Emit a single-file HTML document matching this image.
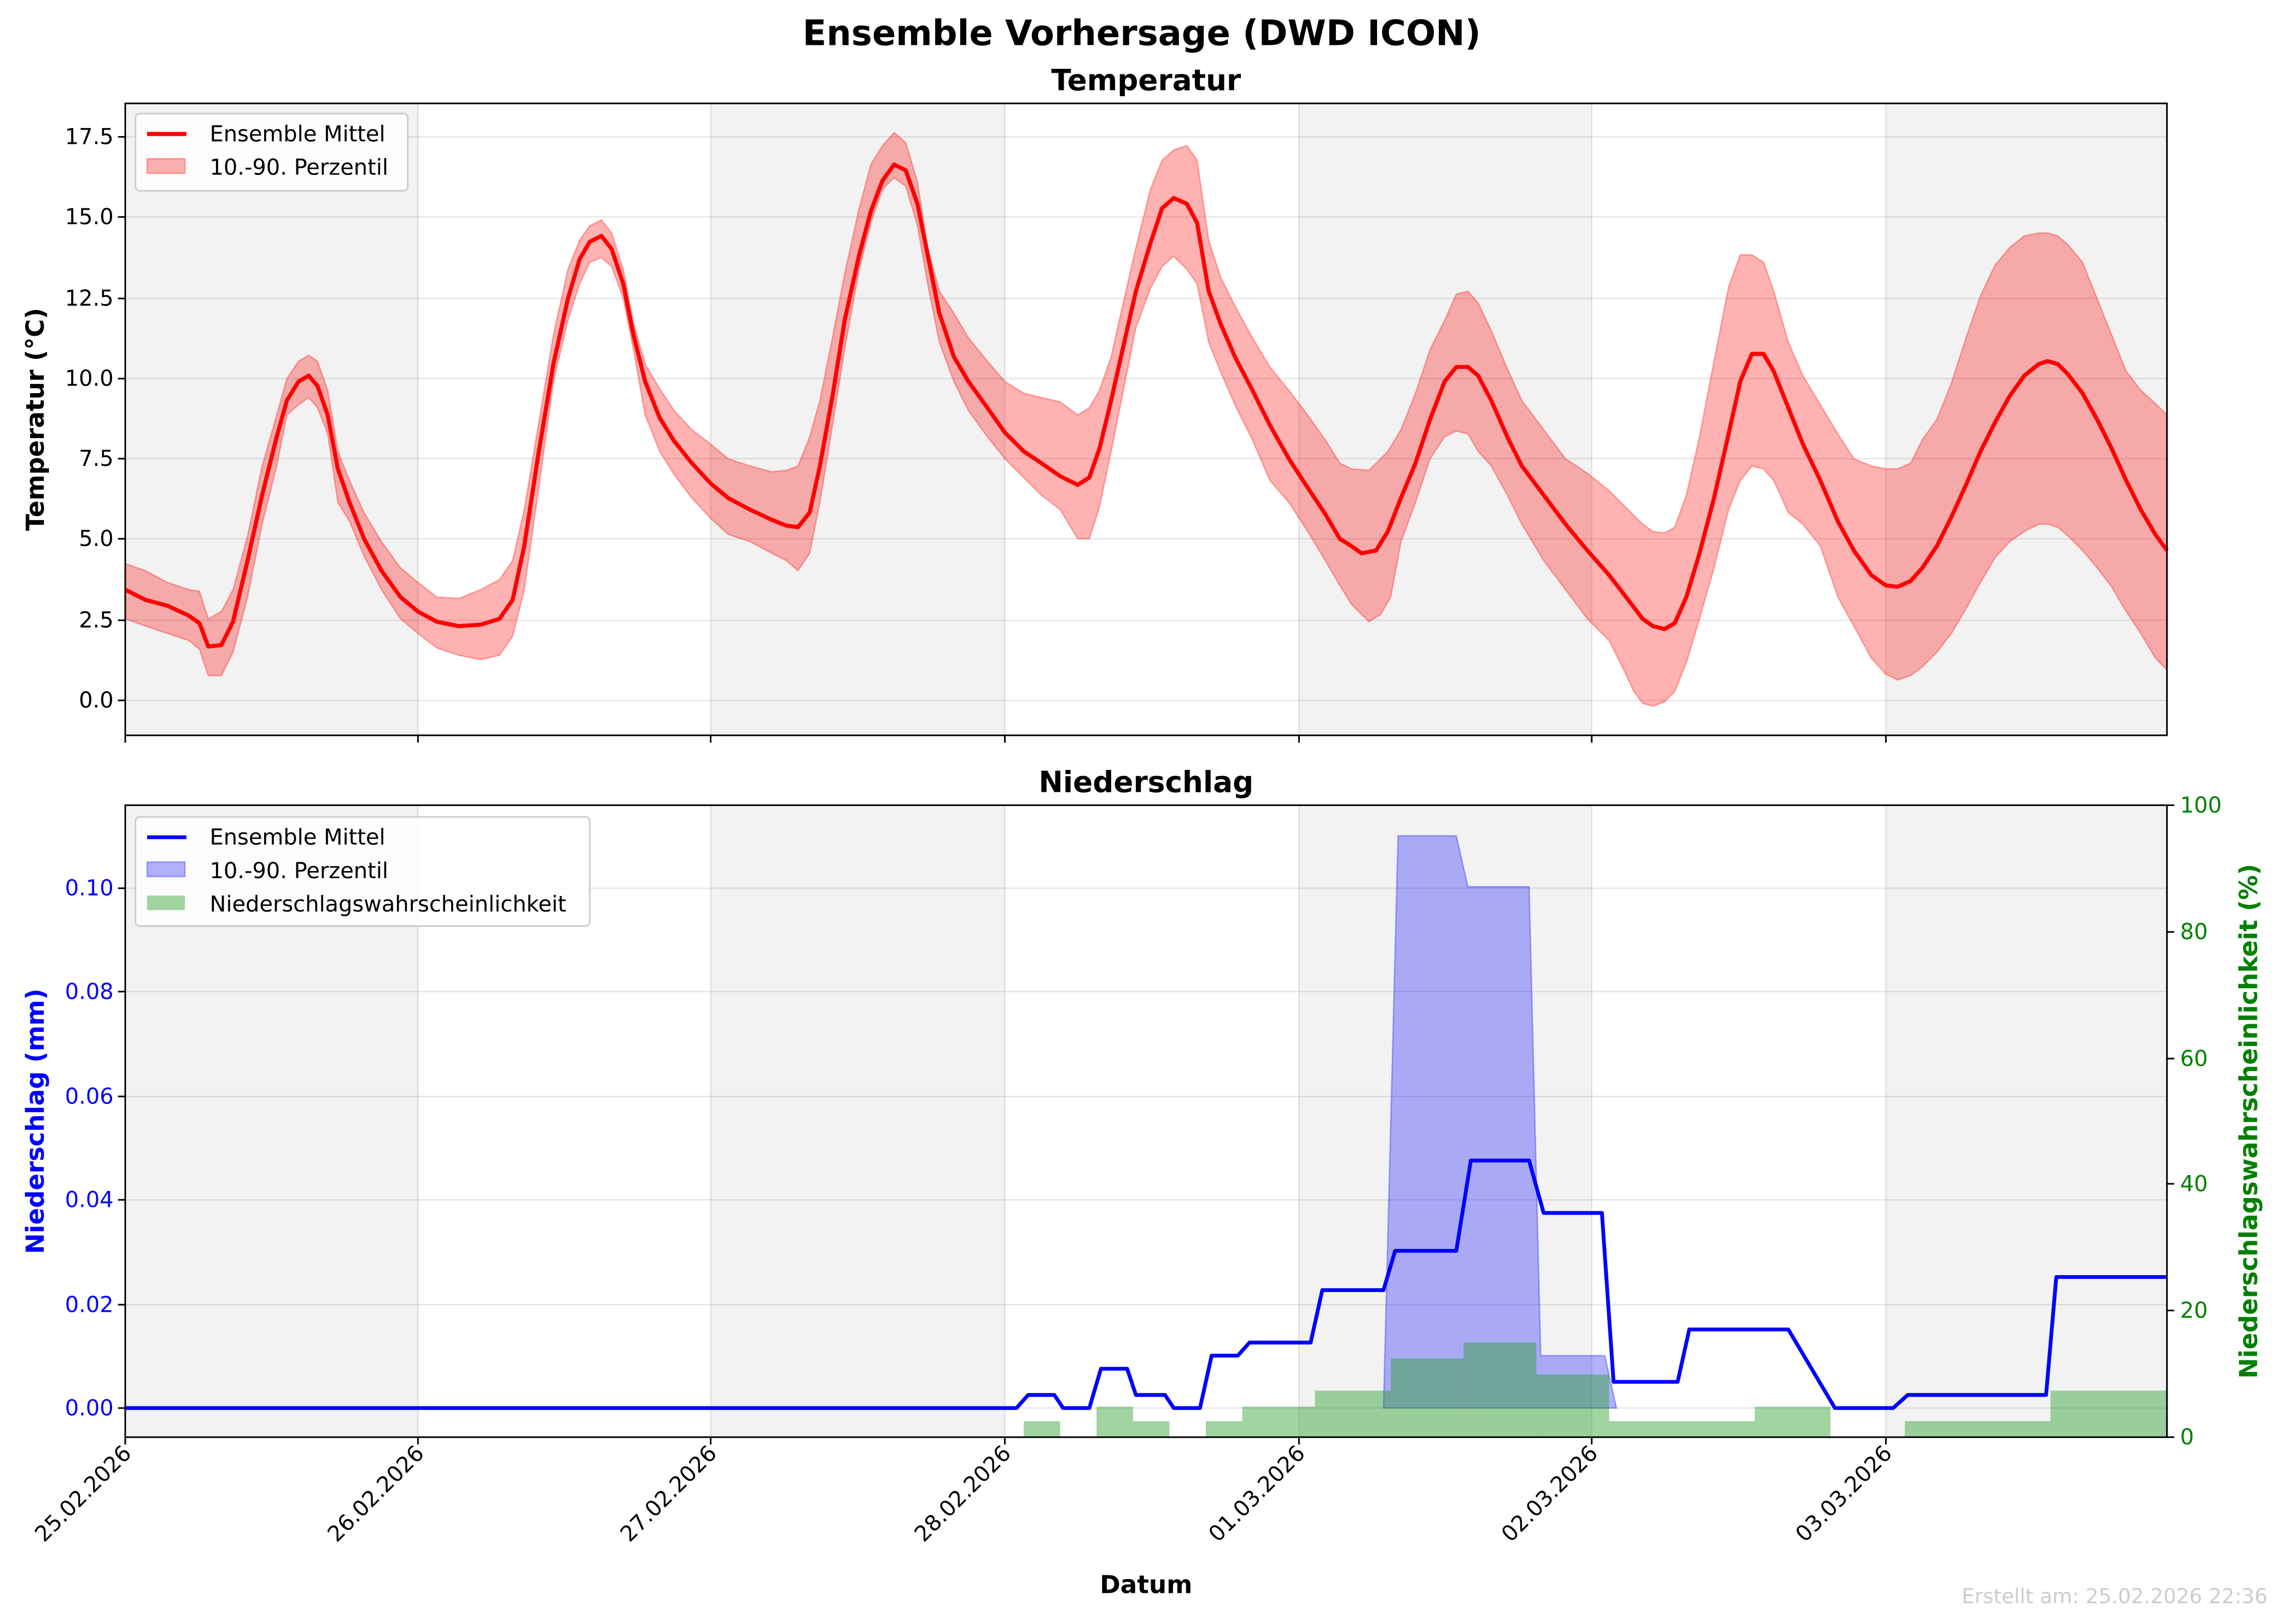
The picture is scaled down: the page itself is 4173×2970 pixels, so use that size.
<!DOCTYPE html>
<html><head><meta charset="utf-8"><style>
html,body{margin:0;padding:0;background:#fff;}
svg{display:block;}
text{font-family:"DejaVu Sans","Liberation Sans",sans-serif;}
</style></head><body>
<svg width="4173" height="2970" viewBox="0 0 1567 1115.3" preserveAspectRatio="none" xmlns="http://www.w3.org/2000/svg">
<rect width="1567" height="1116" fill="#fff"/>
<text x="784" y="31" font-size="24" font-weight="bold" text-anchor="middle">Ensemble Vorhersage (DWD ICON)</text>

<!-- TOP PANEL -->
<g>
<rect x="86" y="71" width="201.5" height="434" fill="#f2f2f2"/>
<rect x="488" y="71" width="202" height="434" fill="#f2f2f2"/>
<rect x="892" y="71" width="201" height="434" fill="#f2f2f2"/>
<rect x="1295" y="71" width="193" height="434" fill="#f2f2f2"/>
<g stroke="#000" stroke-opacity="0.1" stroke-width="0.9">
<line x1="86" x2="1488" y1="481" y2="481"/><line x1="86" x2="1488" y1="426" y2="426"/><line x1="86" x2="1488" y1="370" y2="370"/><line x1="86" x2="1488" y1="315" y2="315"/><line x1="86" x2="1488" y1="260" y2="260"/><line x1="86" x2="1488" y1="205" y2="205"/><line x1="86" x2="1488" y1="149" y2="149"/><line x1="86" x2="1488" y1="94" y2="94"/>
<line x1="287" x2="287" y1="71" y2="505"/><line x1="488" x2="488" y1="71" y2="505"/><line x1="690" x2="690" y1="71" y2="505"/><line x1="892" x2="892" y1="71" y2="505"/><line x1="1093" x2="1093" y1="71" y2="505"/><line x1="1295" x2="1295" y1="71" y2="505"/>
</g>
<polygon fill="#ff0000" fill-opacity="0.3" stroke="#ff0000" stroke-opacity="0.3" stroke-width="1" points="86,387 100,392 115,400 130,405 137,406 143,425 152,420 160,405 170,368 180,320 190,285 197,260 205,248 212,244 218,248 225,268 232,310 240,330 250,352 262,372 275,390 287,400 300,410 315,411 330,405 343,398 352,385 360,350 370,290 380,230 390,185 398,165 405,155 413,151 420,160 428,185 435,222 443,250 453,267 463,282 475,295 488,305 500,315 515,320 530,324 540,323 548,320 556,300 563,275 572,230 580,188 590,143 598,113 606,100 614,91 622,98 630,125 637,170 645,200 655,215 665,232 678,248 690,262 703,270 715,273 728,276 740,285 748,280 755,268 763,245 772,205 780,170 790,130 798,110 806,103 815,100 822,110 830,165 838,190 848,210 860,232 872,252 885,268 898,285 910,302 920,318 928,322 940,323 953,310 962,295 972,270 982,240 992,220 1000,202 1008,200 1015,208 1024,227 1035,253 1045,275 1060,295 1075,315 1090,325 1105,337 1115,347 1128,360 1135,365 1143,366 1150,362 1158,340 1167,300 1177,248 1187,197 1195,175 1203,175 1211,180 1218,200 1228,235 1238,258 1250,278 1262,298 1273,315 1285,320 1295,322 1303,322 1312,318 1320,302 1330,288 1340,263 1350,232 1360,203 1370,182 1380,170 1390,162 1400,160 1406,160 1413,162 1420,168 1430,180 1440,205 1450,230 1460,255 1470,268 1480,277 1488,285 1488,460 1480,452 1470,435 1460,420 1450,403 1440,390 1430,378 1420,368 1413,362 1406,360 1400,360 1390,365 1380,372 1370,383 1360,400 1350,418 1340,435 1330,448 1320,458 1312,464 1303,467 1295,463 1285,452 1273,430 1262,410 1250,375 1238,360 1228,352 1218,330 1211,322 1203,320 1195,330 1187,350 1177,390 1167,425 1158,455 1150,475 1143,482 1135,485 1128,483 1122,475 1115,460 1105,440 1090,425 1075,405 1060,385 1045,360 1035,340 1024,320 1015,310 1008,298 1000,296 992,300 982,315 972,345 962,372 955,410 948,422 940,427 928,415 920,402 910,385 898,365 885,345 872,330 860,302 848,278 838,255 830,235 822,195 815,185 806,176 798,183 790,198 780,225 772,265 763,310 755,348 748,370 740,370 728,350 715,340 703,328 690,315 678,300 665,282 655,262 645,235 637,195 630,155 622,128 614,122 606,130 598,153 590,185 580,240 572,290 563,345 556,380 548,392 540,385 530,380 515,372 500,367 488,356 475,342 463,326 453,310 443,285 435,240 428,205 420,183 413,177 405,180 398,195 390,220 380,262 370,335 360,405 352,437 343,450 330,453 315,450 300,445 287,435 275,425 262,405 250,382 240,358 232,345 225,298 218,280 212,273 205,278 197,285 190,320 180,360 170,410 160,448 152,464 143,464 137,446 130,440 115,435 100,430 86,425"/>
<polyline fill="none" stroke="#ff0000" stroke-width="2.8" stroke-linejoin="round" points="86,405 100,412 115,416 130,423 137,428 143,444 152,443 160,427 170,385 180,340 190,300 197,275 205,262 212,258 218,265 225,285 232,322 240,345 250,370 262,392 275,410 287,420 300,427 315,430 330,429 343,425 352,412 360,375 370,310 380,250 390,205 398,178 405,166 413,162 420,171 428,195 435,230 443,262 453,287 463,303 475,318 488,332 500,342 515,350 530,357 540,361 548,362 556,352 563,320 572,270 580,220 590,175 598,145 606,124 614,113 622,117 630,140 637,175 645,215 655,245 665,262 678,280 690,297 703,310 715,318 728,327 740,333 748,328 755,308 763,275 772,235 780,200 790,167 798,143 806,136 815,140 822,153 830,200 838,222 848,245 860,268 872,292 885,315 898,335 910,353 920,370 928,375 935,380 945,378 953,365 962,342 972,318 982,288 992,262 1000,252 1008,252 1015,258 1024,275 1035,300 1045,320 1060,340 1075,360 1090,378 1105,395 1115,408 1128,425 1135,430 1143,432 1150,428 1158,410 1167,380 1177,342 1187,298 1195,262 1203,243 1211,243 1218,255 1228,280 1238,305 1250,330 1262,358 1273,378 1285,395 1295,402 1303,403 1312,399 1320,390 1330,375 1340,355 1350,333 1360,310 1370,290 1380,272 1390,258 1400,250 1406,248 1413,250 1420,257 1430,270 1440,288 1450,308 1460,330 1470,350 1480,367 1488,378"/>
<rect x="86" y="71" width="1402" height="434" fill="none" stroke="#000" stroke-width="1.1"/>
<g stroke="#000" stroke-width="1.1">
<line x1="81" x2="86" y1="481" y2="481"/><line x1="81" x2="86" y1="426" y2="426"/><line x1="81" x2="86" y1="370" y2="370"/><line x1="81" x2="86" y1="315" y2="315"/><line x1="81" x2="86" y1="260" y2="260"/><line x1="81" x2="86" y1="205" y2="205"/><line x1="81" x2="86" y1="149" y2="149"/><line x1="81" x2="86" y1="94" y2="94"/>
<line x1="86" x2="86" y1="505" y2="510"/><line x1="287" x2="287" y1="505" y2="510"/><line x1="488" x2="488" y1="505" y2="510"/><line x1="690" x2="690" y1="505" y2="510"/><line x1="892" x2="892" y1="505" y2="510"/><line x1="1093" x2="1093" y1="505" y2="510"/><line x1="1295" x2="1295" y1="505" y2="510"/>
</g>
<g font-size="15" text-anchor="end">
<text x="78" y="486">0.0</text><text x="78" y="431">2.5</text><text x="78" y="375">5.0</text><text x="78" y="320">7.5</text><text x="78" y="265">10.0</text><text x="78" y="210">12.5</text><text x="78" y="154">15.0</text><text x="78" y="99">17.5</text>
</g>
<text x="787" y="62" font-size="20" font-weight="bold" text-anchor="middle">Temperatur</text>
<text transform="translate(30,288) rotate(-90)" font-size="17" font-weight="bold" text-anchor="middle">Temperatur (°C)</text>
<rect x="93" y="78" width="187" height="53" rx="3" fill="#fff" fill-opacity="0.85" stroke="#ccc" stroke-width="1.1"/>
<line x1="101" x2="128" y1="92" y2="92" stroke="#f00" stroke-width="2.8"/>
<rect x="101" y="109" width="26" height="10" fill="#ff0000" fill-opacity="0.3" stroke="#ff0000" stroke-opacity="0.3"/>
<text x="144" y="97" font-size="15">Ensemble Mittel</text>
<text x="144" y="120" font-size="15">10.-90. Perzentil</text>
</g>

<!-- BOTTOM PANEL -->
<g>
<rect x="86" y="553" width="201.5" height="434" fill="#f2f2f2"/>
<rect x="488" y="553" width="202" height="434" fill="#f2f2f2"/>
<rect x="892" y="553" width="201" height="434" fill="#f2f2f2"/>
<rect x="1295" y="553" width="193" height="434" fill="#f2f2f2"/>
<g stroke="#000" stroke-opacity="0.1" stroke-width="0.9">
<line x1="86" x2="1488" y1="967" y2="967"/><line x1="86" x2="1488" y1="896" y2="896"/><line x1="86" x2="1488" y1="824" y2="824"/><line x1="86" x2="1488" y1="753" y2="753"/><line x1="86" x2="1488" y1="681" y2="681"/><line x1="86" x2="1488" y1="610" y2="610"/>
<line x1="287" x2="287" y1="553" y2="987"/><line x1="488" x2="488" y1="553" y2="987"/><line x1="690" x2="690" y1="553" y2="987"/><line x1="892" x2="892" y1="553" y2="987"/><line x1="1093" x2="1093" y1="553" y2="987"/><line x1="1295" x2="1295" y1="553" y2="987"/>
</g>
<polygon fill="#0000ff" fill-opacity="0.3" stroke="#0000ff" stroke-opacity="0.3" points="950,967 960,574 1000,574 1008,609 1050,609 1058,931 1102,931 1110,967"/>
<g fill="#2ca02c" fill-opacity="0.45">
<rect x="703" y="976" width="25" height="11"/>
<rect x="753" y="966" width="25" height="21"/>
<rect x="778" y="976" width="25" height="11"/>
<rect x="828" y="976" width="25" height="11"/>
<rect x="853" y="966" width="50" height="21"/>
<rect x="903" y="955" width="52" height="32"/>
<rect x="955" y="933" width="50" height="54"/>
<rect x="1005" y="922" width="50" height="65"/>
<rect x="1055" y="944" width="50" height="43"/>
<rect x="1105" y="976" width="100" height="11"/>
<rect x="1205" y="966" width="52" height="21"/>
<rect x="1308" y="976" width="100" height="11"/>
<rect x="1408" y="955" width="80" height="32"/>
</g>
<polyline fill="none" stroke="#0000ff" stroke-width="2.6" stroke-linejoin="round" points="86,967 698,967 706,958 724,958 730,967 748,967 756,940 774,940 780,958 800,958 806,967 824,967 832,931 850,931 858,922 900,922 908,886 950,886 958,859 1000,859 1010,797 1050,797 1060,833 1100,833 1108,949 1152,949 1160,913 1228,913 1260,967 1300,967 1310,958 1405,958 1412,877 1488,877"/>
<rect x="86" y="553" width="1402" height="434" fill="none" stroke="#000" stroke-width="1.1"/>
<g stroke="#000" stroke-width="1.1">
<line x1="81" x2="86" y1="967" y2="967"/><line x1="81" x2="86" y1="896" y2="896"/><line x1="81" x2="86" y1="824" y2="824"/><line x1="81" x2="86" y1="753" y2="753"/><line x1="81" x2="86" y1="681" y2="681"/><line x1="81" x2="86" y1="610" y2="610"/>
<line x1="1488" x2="1493" y1="987" y2="987"/><line x1="1488" x2="1493" y1="900" y2="900"/><line x1="1488" x2="1493" y1="813" y2="813"/><line x1="1488" x2="1493" y1="727" y2="727"/><line x1="1488" x2="1493" y1="640" y2="640"/><line x1="1488" x2="1493" y1="553" y2="553"/>
<line x1="86" x2="86" y1="987" y2="992"/><line x1="287" x2="287" y1="987" y2="992"/><line x1="488" x2="488" y1="987" y2="992"/><line x1="690" x2="690" y1="987" y2="992"/><line x1="892" x2="892" y1="987" y2="992"/><line x1="1093" x2="1093" y1="987" y2="992"/><line x1="1295" x2="1295" y1="987" y2="992"/>
</g>
<g font-size="15" text-anchor="end" fill="#0000ff">
<text x="78" y="972">0.00</text><text x="78" y="901">0.02</text><text x="78" y="829">0.04</text><text x="78" y="758">0.06</text><text x="78" y="686">0.08</text><text x="78" y="615">0.10</text>
</g>
<g font-size="15" fill="#008000">
<text x="1497" y="992">0</text><text x="1497" y="905">20</text><text x="1497" y="818">40</text><text x="1497" y="732">60</text><text x="1497" y="645">80</text><text x="1497" y="558">100</text>
</g>
<text x="787" y="544" font-size="20" font-weight="bold" text-anchor="middle">Niederschlag</text>
<text transform="translate(30,770) rotate(-90)" font-size="17" font-weight="bold" text-anchor="middle" fill="#0000ff">Niederschlag (mm)</text>
<text transform="translate(1550,770) rotate(-90)" font-size="17" font-weight="bold" text-anchor="middle" fill="#008000">Niederschlagswahrscheinlichkeit (%)</text>
<rect x="93" y="561" width="312" height="75" rx="3" fill="#fff" fill-opacity="0.85" stroke="#ccc" stroke-width="1.1"/>
<line x1="101" x2="128" y1="575" y2="575" stroke="#00f" stroke-width="2.6"/>
<rect x="101" y="592" width="26" height="10" fill="#0000ff" fill-opacity="0.3" stroke="#0000ff" stroke-opacity="0.3"/>
<rect x="101" y="615" width="26" height="10" fill="#2ca02c" fill-opacity="0.45"/>
<text x="144" y="580" font-size="15">Ensemble Mittel</text>
<text x="144" y="603" font-size="15">10.-90. Perzentil</text>
<text x="144" y="626" font-size="15">Niederschlagswahrscheinlichkeit</text>
<g font-size="15" text-anchor="end">
<text transform="translate(91,999) rotate(-45)">25.02.2026</text>
<text transform="translate(292,999) rotate(-45)">26.02.2026</text>
<text transform="translate(493,999) rotate(-45)">27.02.2026</text>
<text transform="translate(695,999) rotate(-45)">28.02.2026</text>
<text transform="translate(897,999) rotate(-45)">01.03.2026</text>
<text transform="translate(1098,999) rotate(-45)">02.03.2026</text>
<text transform="translate(1300,999) rotate(-45)">03.03.2026</text>
</g>
<text x="787" y="1094" font-size="17" font-weight="bold" text-anchor="middle">Datum</text>
<text x="1557" y="1101" font-size="14" text-anchor="end" fill="#000" fill-opacity="0.2">Erstellt am: 25.02.2026 22:36</text>
</g>
</svg>
</body></html>
